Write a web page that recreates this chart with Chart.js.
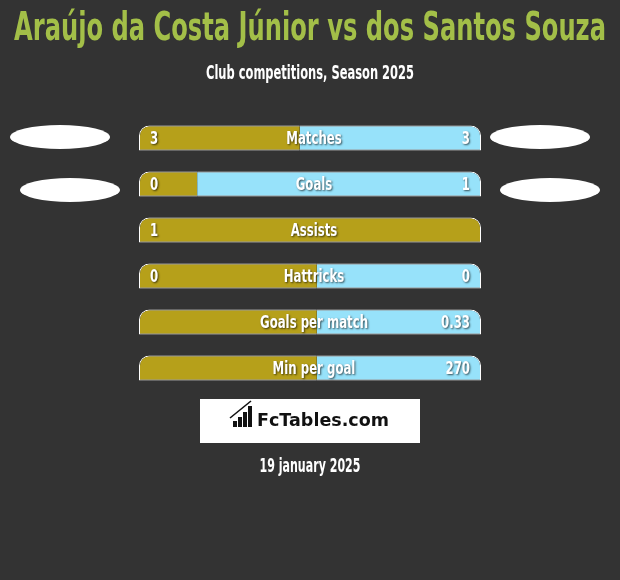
<!DOCTYPE html>
<html>
<head>
<meta charset="utf-8">
<script src="https://cdn.jsdelivr.net/npm/chart.js@4.4.1/dist/chart.umd.min.js"></script>
<style>
    html, body { margin: 0; padding: 0; background: #333333; }
    #wrap { width: 620px; height: 580px; }
</style>
</head>
<body>
<div id="wrap"><canvas id="comparativa" width="620" height="580"></canvas></div>
<script>
// datos del gráfico
var titulo = 'Araújo da Costa Júnior vs dos Santos Souza';
var subtitulo = 'Club competitions, Season 2025';
var fecha = '19 january 2025';
var marca = 'FcTables.com';
var categorias = ['Matches', 'Goals', 'Assists', 'Hattricks', 'Goals per match', 'Min per goal'];
var valoresIzq = ['3', '0', '1', '0', '', ''];
var valoresDer = ['3', '1', '', '0', '0.33', '270'];
var parteIzq = [0.47, 0.17, 1, 0.52, 0.52, 0.52];
var parteDer = [0.53, 0.83, 0, 0.48, 0.48, 0.48];

var FUENTE = '"DejaVu Sans Condensed", "DejaVu Sans", sans-serif';
var ORO = '#b6a01a';
var CELESTE = '#97e2fa';

// texto comprimido horizontalmente, con sombra opcional
function texto(ctx, t, x, y, size, color, align, escala, sombra) {
    ctx.save();
    ctx.font = 'bold ' + size + 'px ' + FUENTE;
    ctx.fillStyle = color;
    ctx.textAlign = align;
    ctx.textBaseline = 'alphabetic';
    if (sombra) {
        ctx.shadowColor = 'rgba(0,0,0,0.65)';
        ctx.shadowOffsetX = 1;
        ctx.shadowOffsetY = 1;
        ctx.shadowBlur = 2;
    }
    ctx.translate(x, y);
    ctx.scale(escala, 1);
    ctx.fillText(t, 0, 0);
    ctx.restore();
}

function elipse(ctx, cx, cy) {
    ctx.save();
    ctx.fillStyle = '#ffffff';
    ctx.beginPath();
    ctx.ellipse(cx, cy, 50, 12, 0, 0, Math.PI * 2);
    ctx.fill();
    ctx.restore();
}

// ajusta la escala para que el texto ocupe cierto ancho
function escalaPara(ctx, t, size, ancho) {
    ctx.save();
    ctx.font = 'bold ' + size + 'px ' + FUENTE;
    var w = ctx.measureText(t).width;
    ctx.restore();
    return ancho / w;
}

// plugin para fondo, títulos, etiquetas y pie
var decoracion = {
    id: 'decoracion',
    beforeDraw: function (chart) {
        var ctx = chart.ctx;
        ctx.save();
        ctx.fillStyle = '#333333';
        ctx.fillRect(0, 0, chart.width, chart.height);
        ctx.restore();
    },
    afterDatasetsDraw: function (chart) {
        var ctx = chart.ctx;
        var area = chart.chartArea;
        var centro = (area.left + area.right) / 2 + 4;
        var filas = chart.getDatasetMeta(0).data;

        texto(ctx, titulo, chart.width / 2, 40, 39, '#a3bf48', 'center', escalaPara(ctx, titulo, 39, 592), false);
        texto(ctx, subtitulo, chart.width / 2, 79, 19, '#ffffff', 'center', escalaPara(ctx, subtitulo, 19, 208), false);

        var esc = escalaPara(ctx, 'Goals per match', 18, 108);
        filas.forEach(function (el, i) {
            var y = el.y + 6;
            texto(ctx, categorias[i], centro, y, 18, '#ffffff', 'center', esc, true);
            if (valoresIzq[i]) texto(ctx, valoresIzq[i], area.left + 11, y, 18, '#ffffff', 'left', esc, true);
            if (valoresDer[i]) texto(ctx, valoresDer[i], area.right - 11, y, 18, '#ffffff', 'right', esc, true);
        });

        // elipses de los jugadores
        elipse(ctx, area.left - 79, filas[0].y - 1);
        elipse(ctx, area.left - 69, filas[1].y + 6);
        elipse(ctx, area.right + 59, filas[0].y - 1);
        elipse(ctx, area.right + 69, filas[1].y + 6);

        // caja de la marca
        ctx.save();
        ctx.fillStyle = '#ffffff';
        ctx.fillRect(200, 399, 220, 44);
        ctx.fillStyle = '#111111';
        var alturas = [6, 10, 15, 21];
        alturas.forEach(function (h, k) {
            ctx.fillRect(233 + k * 5, 427 - h, 4, h);
        });
        ctx.strokeStyle = '#111111';
        ctx.lineWidth = 1.6;
        ctx.beginPath();
        ctx.moveTo(230, 418);
        ctx.lineTo(251, 401);
        ctx.stroke();
        ctx.font = 'bold 18px "DejaVu Sans", sans-serif';
        ctx.textAlign = 'left';
        ctx.textBaseline = 'alphabetic';
        ctx.fillText(marca, 257, 426, 132);
        ctx.restore();

        texto(ctx, fecha, chart.width / 2, 472, 20, '#ffffff', 'center', escalaPara(ctx, fecha, 20, 101), false);
    }
};

function radioIzq(c) {
    var r = 10;
    return { topLeft: r, topRight: parteDer[c.dataIndex] === 0 ? r : 0, bottomLeft: 0, bottomRight: 0 };
}
function radioDer(c) {
    var r = 10;
    return { topLeft: parteIzq[c.dataIndex] === 0 ? r : 0, topRight: r, bottomLeft: 0, bottomRight: 0 };
}

var ctx = document.getElementById('comparativa').getContext('2d');
var grafico = new Chart(ctx, {
    type: 'bar',
    data: {
        labels: categorias,
        datasets: [{
            data: parteIzq,
            backgroundColor: ORO,
            borderColor: '#ffffff',
            borderWidth: function (c) {
                return { top: 1, bottom: 1, left: 1, right: parteDer[c.dataIndex] === 0 ? 1 : 0 };
            },
            borderSkipped: false,
            borderRadius: radioIzq
        }, {
            data: parteDer,
            backgroundColor: CELESTE,
            borderColor: '#ffffff',
            borderWidth: function (c) {
                return parteDer[c.dataIndex] === 0 ? 0 : { top: 1, bottom: 1, left: 0, right: 1 };
            },
            borderSkipped: false,
            borderRadius: radioDer
        }]
    },
    options: {
        indexAxis: 'y',
        responsive: false,
        animation: false,
        layout: { padding: { left: 139, right: 139, top: 115, bottom: 189 } },
        datasets: { bar: { barPercentage: 25 / 46, categoryPercentage: 1 } },
        scales: {
            x: { stacked: true, min: 0, max: 1, display: false },
            y: { stacked: true, display: false }
        },
        plugins: {
            legend: { display: false },
            tooltip: { enabled: false }
        }
    },
    plugins: [decoracion]
});
</script>
</body>
</html>
